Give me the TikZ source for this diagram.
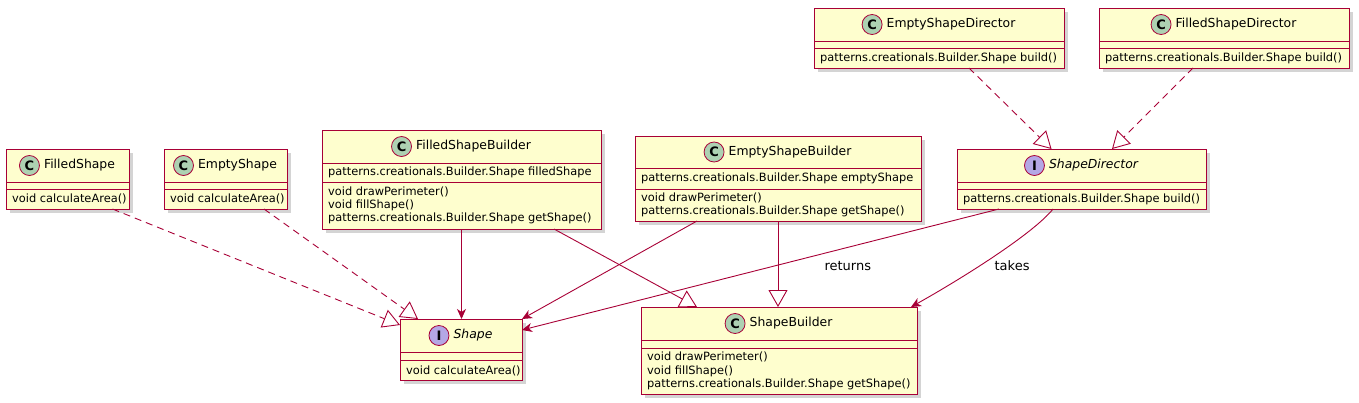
\documentclass[tikz,border=0pt]{standalone}
\usepackage{fontspec}
\setmainfont{DejaVu Sans}
\usepackage{xcolor}
\usepackage{tikz}
\usetikzlibrary{positioning,arrows.meta,shadows}

\definecolor{umlrojo}{HTML}{A80036}
\definecolor{umlfondo}{HTML}{FEFECE}
\definecolor{spotverde}{HTML}{ADD1B2}
\definecolor{spotlila}{HTML}{B4A7E5}

\tikzset{
  clase/.style={draw=umlrojo, fill=umlfondo, line width=1pt, inner sep=0pt, outer sep=0pt,
    anchor=north west, drop shadow={shadow xshift=3.5pt, shadow yshift=-3.5pt, fill=black, opacity=.17}},
  linea/.style={draw=umlrojo, line width=1pt},
  titulo/.style={font=\fontsize{12.4}{14}\selectfont, inner sep=0pt, text height=9pt, text depth=2.5pt},
  spot/.style={circle, draw=umlrojo, line width=0.8pt, minimum size=20pt, inner sep=0pt,
    font=\fontsize{13}{13}\selectfont\bfseries},
  miembro/.style={font=\fontsize{11.4}{13.3}\selectfont, align=left, inner sep=0pt, anchor=west},
  etiqueta/.style={font=\fontsize{13}{15}\selectfont, inner sep=0pt},
  hereda/.style={draw=umlrojo, line width=0.9pt, -{Triangle[open, length=17pt, width=19pt]}},
  implementa/.style={hereda, dash pattern=on 7pt off 5pt},
  usa/.style={draw=umlrojo, line width=0.9pt, -{Stealth[length=10pt, width=9pt, inset=3pt]}}
}

\begin{document}
\begin{tikzpicture}[x=1pt, y=-1pt]

\useasboundingbox (0,0) rectangle (1359,402);

% cajas
\node[clase, minimum width=123pt, minimum height=60pt] (fs) at (6,149) {};    % FilledShape
\node[clase, minimum width=123pt, minimum height=60pt] (es) at (164,149) {};  % EmptyShape
\node[clase, minimum width=279pt, minimum height=99pt] (fsb) at (322,130) {}; % FilledShapeBuilder
\node[clase, minimum width=286pt, minimum height=85pt] (esb) at (635,136) {}; % EmptyShapeBuilder
\node[clase, minimum width=250pt, minimum height=60pt] (esd) at (814,8) {};   % EmptyShapeDirector
\node[clase, minimum width=250pt, minimum height=60pt] (fsd) at (1099,8) {};  % FilledShapeDirector
\node[clase, minimum width=249pt, minimum height=60pt] (sd) at (957,149) {};  % ShapeDirector
\node[clase, minimum width=122pt, minimum height=61pt] (sh) at (400,319) {};  % Shape
\node[clase, minimum width=276pt, minimum height=87pt] (sb) at (641,307) {};  % ShapeBuilder

% separadores
\draw[linea] ([yshift=-33pt]fs.north west) -- ([yshift=-33pt]fs.north east);
\draw[linea] ([yshift=-40pt]fs.north west) -- ([yshift=-40pt]fs.north east);
\draw[linea] ([yshift=-33pt]es.north west) -- ([yshift=-33pt]es.north east);
\draw[linea] ([yshift=-40pt]es.north west) -- ([yshift=-40pt]es.north east);
\draw[linea] ([yshift=-33pt]fsb.north west) -- ([yshift=-33pt]fsb.north east);
\draw[linea] ([yshift=-52pt]fsb.north west) -- ([yshift=-52pt]fsb.north east);
\draw[linea] ([yshift=-32pt]esb.north west) -- ([yshift=-32pt]esb.north east);
\draw[linea] ([yshift=-53pt]esb.north west) -- ([yshift=-53pt]esb.north east);
\draw[linea] ([yshift=-33pt]esd.north west) -- ([yshift=-33pt]esd.north east);
\draw[linea] ([yshift=-40pt]esd.north west) -- ([yshift=-40pt]esd.north east);
\draw[linea] ([yshift=-33pt]fsd.north west) -- ([yshift=-33pt]fsd.north east);
\draw[linea] ([yshift=-40pt]fsd.north west) -- ([yshift=-40pt]fsd.north east);
\draw[linea] ([yshift=-33pt]sd.north west) -- ([yshift=-33pt]sd.north east);
\draw[linea] ([yshift=-40pt]sd.north west) -- ([yshift=-40pt]sd.north east);
\draw[linea] ([yshift=-33pt]sh.north west) -- ([yshift=-33pt]sh.north east);
\draw[linea] ([yshift=-41pt]sh.north west) -- ([yshift=-41pt]sh.north east);
\draw[linea] ([yshift=-33pt]sb.north west) -- ([yshift=-33pt]sb.north east);
\draw[linea] ([yshift=-41pt]sb.north west) -- ([yshift=-41pt]sb.north east);

% titulos
\node[titulo] (fsT) at ([xshift=12pt, yshift=-16.5pt]fs.north) {FilledShape};
\node[spot, fill=spotverde, left=4pt of fsT] (fsC) {C};
\node[titulo] (esT) at ([xshift=12pt, yshift=-16.5pt]es.north) {EmptyShape};
\node[spot, fill=spotverde, left=4pt of esT] (esC) {C};
\node[titulo] (fsbT) at ([xshift=12pt, yshift=-16.5pt]fsb.north) {FilledShapeBuilder};
\node[spot, fill=spotverde, left=4pt of fsbT] (fsbC) {C};
\node[titulo] (esbT) at ([xshift=12pt, yshift=-16pt]esb.north) {EmptyShapeBuilder};
\node[spot, fill=spotverde, left=4pt of esbT] (esbC) {C};
\node[titulo] (esdT) at ([xshift=12pt, yshift=-16.5pt]esd.north) {EmptyShapeDirector};
\node[spot, fill=spotverde, left=4pt of esdT] (esdC) {C};
\node[titulo] (fsdT) at ([xshift=12pt, yshift=-16.5pt]fsd.north) {FilledShapeDirector};
\node[spot, fill=spotverde, left=4pt of fsdT] (fsdC) {C};
\node[titulo] (sdT) at ([xshift=12pt, yshift=-16.5pt]sd.north) {\itshape ShapeDirector};
\node[spot, fill=spotlila, left=4pt of sdT] (sdI) {I};
\node[titulo] (shT) at ([xshift=12pt, yshift=-16.5pt]sh.north) {\itshape Shape};
\node[spot, fill=spotlila, left=4pt of shT] (shI) {I};
\node[titulo] (sbT) at ([xshift=12pt, yshift=-16.5pt]sb.north) {ShapeBuilder};
\node[spot, fill=spotverde, left=4pt of sbT] (sbC) {C};

% miembros
\node[miembro] (fsM) at ([xshift=6pt, yshift=10pt]fs.south west) {void calculateArea()};
\node[miembro] (esM) at ([xshift=6pt, yshift=10pt]es.south west) {void calculateArea()};
\node[miembro] (fsbA) at ([xshift=6pt, yshift=-42.5pt]fsb.north west) {patterns.creationals.Builder.Shape filledShape};
\node[miembro] (fsbM) at ([xshift=6pt, yshift=23.5pt]fsb.south west)
  {void drawPerimeter()\\void fillShape()\\patterns.creationals.Builder.Shape getShape()};
\node[miembro] (esbA) at ([xshift=6pt, yshift=-42.5pt]esb.north west) {patterns.creationals.Builder.Shape emptyShape};
\node[miembro] (esbM) at ([xshift=6pt, yshift=16pt]esb.south west)
  {void drawPerimeter()\\patterns.creationals.Builder.Shape getShape()};
\node[miembro] (esdM) at ([xshift=6pt, yshift=10pt]esd.south west) {patterns.creationals.Builder.Shape build()};
\node[miembro] (fsdM) at ([xshift=6pt, yshift=10pt]fsd.south west) {patterns.creationals.Builder.Shape build()};
\node[miembro] (sdM) at ([xshift=6pt, yshift=10pt]sd.south west) {patterns.creationals.Builder.Shape build()};
\node[miembro] (shM) at ([xshift=6pt, yshift=9.5pt]sh.south west) {void calculateArea()};
\node[miembro] (sbM) at ([xshift=6pt, yshift=23pt]sb.south west)
  {void drawPerimeter()\\void fillShape()\\patterns.creationals.Builder.Shape getShape()};

% relaciones
\draw[implementa] ([xshift=45pt]fs.south) -- ([yshift=24.5pt]sh.west);
\draw[implementa] ([xshift=38.5pt]es.south) -- ([xshift=-43pt]sh.north);
\draw[usa] (fsb.south) -- (fsb.south |- sh.north);
\draw[usa] ([xshift=-81pt]esb.south) -- (sh.north east);
\draw[hereda] ([xshift=92.5pt]fsb.south) -- ([xshift=-82pt]sb.north);
\draw[hereda] (esb.south) -- (esb.south |- sb.north);
\draw[usa] ([xshift=-82.5pt]sd.south) -- node[etiqueta, pos=0.317, below=14pt] (ret) {returns} ([yshift=19.5pt]sh.east);
\draw[usa] ([xshift=-28.5pt]sd.south) .. controls +(-20,25) and +(50,-28) .. ([xshift=-6pt]sb.north east)
  node[etiqueta, pos=0.58, right=14pt] (tak) {takes};
\draw[implementa] ([xshift=30pt]esd.south) -- ([xshift=-30pt]sd.north);
\draw[implementa] ([xshift=-31pt]fsd.south) -- ([xshift=30.5pt]sd.north);

\end{tikzpicture}
\end{document}
